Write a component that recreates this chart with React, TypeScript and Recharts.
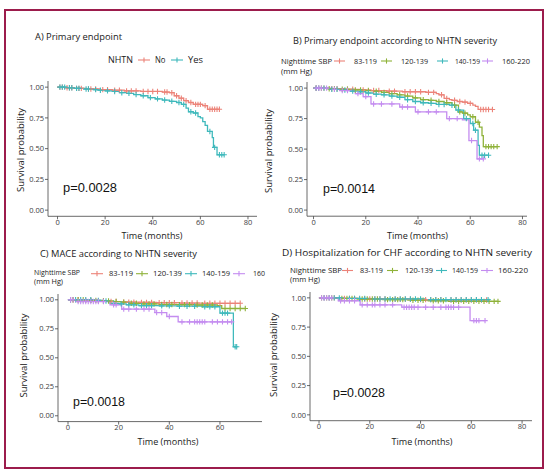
import React from 'react';
import { LineChart, Line, XAxis, YAxis } from 'recharts';

type Pt = [number, number, number];

const TIME_TICKS = [0, 20, 40, 60, 80];
const TIME_TICKS_C = [0, 20, 40, 60];
const SURV_TICKS = [0, 0.25, 0.5, 0.75, 1];

const NHTN_GROUPS = ['No', 'Yes'];
const SBP_GROUPS = ['83-119', '120-139', '140-159', '160-220'];
const SBP_GROUPS_C = ['83-119', '120-139', '140-159', '160'];

const P_VALUES = ['p=0.0028', 'p=0.0014', 'p=0.0018', 'p=0.0028'];

// [time, survival, censored]
const A_NO: Pt[] = [[0,1,0],[1,1,1],[2,1,1],[3,0.995,0],[4,0.995,1],[5,0.995,1],[6,0.995,1],[7,0.99,0],[8,0.99,1],[9,0.99,1],[10,0.99,1],[12,0.985,0],[13,0.985,1],[14,0.985,1],[16,0.985,1],[18,0.98,0],[19,0.98,1],[21,0.98,1],[23,0.975,0],[24,0.975,1],[26,0.975,1],[28,0.97,0],[29,0.97,1],[31,0.97,1],[33,0.97,1],[35,0.965,0],[36,0.965,1],[38,0.965,1],[40,0.965,1],[42,0.965,1],[44,0.96,0],[45,0.96,1],[46,0.96,1],[47,0.955,0],[48,0.955,1],[49,0.93,0],[50,0.93,1],[51,0.91,0],[52,0.91,1],[53,0.89,0],[54,0.89,1],[55,0.875,0],[56,0.875,1],[57,0.86,0],[58,0.86,1],[59,0.86,1],[60,0.86,1],[61,0.85,0],[62,0.85,1],[63,0.82,0],[64,0.82,1],[65,0.82,1],[66,0.82,1],[67,0.82,1],[68,0.82,1]];
const A_YES: Pt[] = [[0,1,0],[1,1,1],[2,1,1],[3,1,1],[4,0.995,0],[5,0.995,1],[6,0.995,1],[7,0.99,0],[8,0.99,1],[9,0.99,1],[11,0.985,0],[12,0.985,1],[13,0.985,1],[15,0.98,0],[16,0.98,1],[17,0.975,0],[18,0.975,1],[20,0.97,0],[21,0.97,1],[23,0.965,0],[24,0.965,1],[26,0.955,0],[27,0.955,1],[29,0.95,0],[30,0.95,1],[32,0.94,0],[33,0.94,1],[35,0.93,0],[36,0.93,1],[38,0.915,0],[39,0.915,1],[41,0.905,0],[42,0.905,1],[44,0.895,0],[45,0.895,1],[47,0.885,0],[48,0.885,1],[50,0.875,0],[51,0.875,1],[52,0.86,0],[53,0.86,1],[54,0.83,0],[55,0.8,0],[56,0.8,1],[57,0.79,0],[58,0.79,1],[59,0.76,0],[60,0.75,0],[61,0.72,0],[62,0.69,0],[63,0.64,0],[64,0.64,1],[65,0.59,0],[65.5,0.51,0],[66,0.51,1],[67,0.45,0],[68,0.45,1],[69,0.45,1],[70,0.45,1]];

const B_83: Pt[] = [[0,1,0],[1,1,1],[2,1,1],[4,1,1],[6,0.995,0],[7,0.995,1],[9,0.995,1],[12,0.99,0],[13,0.99,1],[15,0.99,1],[18,0.985,0],[19,0.985,1],[22,0.98,0],[23,0.98,1],[25,0.98,1],[28,0.975,0],[29,0.975,1],[31,0.975,1],[34,0.97,0],[35,0.97,1],[37,0.97,1],[39,0.97,1],[41,0.97,1],[43,0.965,0],[44,0.965,1],[46,0.965,1],[47,0.955,0],[48,0.945,0],[49,0.945,1],[50,0.915,0],[51,0.915,1],[52,0.905,0],[53,0.9,0],[54,0.9,1],[55,0.89,0],[56,0.89,1],[57,0.885,0],[58,0.885,1],[59,0.875,0],[60,0.875,1],[61,0.86,0],[62,0.85,0],[63,0.825,0],[64,0.825,1],[65,0.825,1],[66,0.825,1],[67,0.825,1],[68.5,0.825,1]];
const B_120: Pt[] = [[0,1,0],[1,1,1],[3,1,1],[5,0.995,0],[6,0.995,1],[8,0.995,1],[10,0.99,0],[11,0.99,1],[13,0.99,1],[15,0.985,0],[16,0.985,1],[18,0.985,1],[20,0.98,0],[21,0.98,1],[23,0.975,0],[24,0.975,1],[26,0.965,0],[27,0.965,1],[29,0.955,0],[30,0.955,1],[32,0.945,0],[33,0.945,1],[35,0.935,0],[36,0.935,1],[38,0.92,0],[39,0.92,1],[41,0.905,0],[42,0.905,1],[44,0.9,0],[45,0.9,1],[47,0.89,0],[48,0.89,1],[50,0.88,0],[51,0.88,1],[53,0.86,0],[54,0.86,1],[55.5,0.805,0],[56,0.805,1],[57,0.795,0],[58,0.795,1],[59,0.78,0],[60,0.765,0],[61,0.765,1],[62,0.72,0],[63,0.72,1],[63.5,0.68,0],[64.5,0.61,0],[65,0.52,0],[66,0.52,1],[67,0.52,1],[68,0.52,1],[69,0.52,1],[70.3,0.52,1]];
const B_140: Pt[] = [[0,1,0],[1,1,1],[2,1,1],[4,1,1],[6,0.99,0],[7,0.99,1],[9,0.99,1],[11,0.985,0],[12,0.985,1],[14,0.975,0],[15,0.975,1],[17,0.97,0],[18,0.97,1],[20,0.96,0],[21,0.96,1],[23,0.95,0],[24,0.95,1],[26,0.945,0],[27,0.945,1],[29,0.935,0],[30,0.935,1],[32,0.925,0],[33,0.925,1],[35,0.905,0],[36,0.905,1],[38,0.89,0],[39,0.89,1],[41,0.88,0],[42,0.88,1],[44,0.875,0],[45,0.875,1],[47,0.866,0],[48,0.866,1],[50,0.866,1],[52,0.86,0],[53,0.86,1],[54.5,0.82,0],[55.5,0.82,1],[57.5,0.75,0],[58.5,0.75,1],[60,0.71,0],[61,0.71,1],[61.3,0.655,0],[62,0.655,1],[63,0.53,0],[63.5,0.45,0],[64.5,0.45,1],[65.5,0.45,1],[67,0.45,1]];
const B_160: Pt[] = [[0,1,0],[1,1,1],[2,1,1],[3,1,1],[5,1,1],[7,0.99,0],[8,0.99,1],[10,0.98,0],[11,0.98,1],[13,0.98,1],[16,0.955,0],[17,0.955,1],[19,0.93,0],[20,0.93,1],[22,0.87,0],[23,0.87,1],[26,0.87,1],[30,0.87,1],[33,0.845,0],[34,0.845,1],[36,0.845,1],[39,0.805,0],[40,0.805,1],[44,0.805,1],[47,0.805,1],[51,0.75,0],[52,0.75,1],[55,0.75,1],[57,0.74,0],[59.5,0.57,0],[60.5,0.57,1],[62.6,0.42,0],[63.5,0.42,1],[65,0.42,1]];

const C_83: Pt[] = [[0,1,0],[1,1,1],[2,1,1],[4,1,1],[6,0.995,0],[7,0.995,1],[9,0.995,1],[11,0.99,0],[12,0.99,1],[14,0.99,1],[16,0.985,0],[17,0.985,1],[19,0.985,1],[21,0.98,0],[22,0.98,1],[24,0.98,1],[26,0.98,1],[28,0.978,0],[29,0.978,1],[31,0.978,1],[33,0.978,1],[35,0.975,0],[36,0.975,1],[38,0.975,1],[40,0.975,1],[42,0.975,1],[44,0.972,0],[45,0.972,1],[47,0.972,1],[49,0.972,1],[51,0.972,1],[53,0.97,0],[54,0.97,1],[56,0.97,1],[58,0.97,1],[60,0.97,1],[62,0.97,1],[64,0.97,1],[66,0.97,1],[68,0.97,1]];
const C_120: Pt[] = [[0,1,0],[2,1,1],[4,1,1],[6,1,1],[8,0.995,0],[9,0.995,1],[11,0.995,1],[13,0.99,0],[14,0.99,1],[16,0.99,1],[18,0.985,0],[19,0.985,1],[21,0.98,0],[22,0.98,1],[24,0.97,0],[25,0.97,1],[27,0.97,1],[29,0.965,0],[30,0.965,1],[32,0.965,1],[34,0.965,1],[36,0.96,0],[37,0.96,1],[39,0.96,1],[41,0.96,1],[43,0.958,0],[44,0.958,1],[46,0.958,1],[48,0.958,1],[50,0.955,0],[51,0.955,1],[53,0.955,1],[55,0.955,1],[57,0.955,1],[59,0.95,0],[60.7,0.925,0],[62,0.925,1],[64,0.925,1],[66,0.925,1],[68,0.925,1],[70,0.925,1]];
const C_140: Pt[] = [[0,1,0],[1,1,1],[3,1,1],[5,1,1],[7,1,1],[9,1,1],[11,0.995,0],[12,0.995,1],[14,0.99,0],[15,0.99,1],[16.6,0.97,0],[18,0.97,1],[20,0.965,0],[21,0.965,1],[23,0.957,0],[24,0.957,1],[26,0.957,1],[28,0.95,0],[29,0.95,1],[31,0.95,1],[33,0.95,1],[36,0.948,0],[37,0.948,1],[40,0.948,1],[43,0.945,0],[44,0.945,1],[47,0.945,1],[50,0.945,1],[53,0.94,0],[54,0.94,1],[56,0.94,1],[58,0.94,1],[60,0.885,0],[61,0.885,1],[62,0.885,1],[63,0.885,1],[65.3,0.595,0],[66,0.595,1],[66.6,0.595,1]];
const C_160: Pt[] = [[0,1,0],[1,1,1],[2,1,1],[3,0.985,0],[4,0.985,1],[5,0.985,1],[6,0.985,1],[7,0.985,1],[8,0.985,1],[9,0.985,1],[10,0.985,1],[11,0.985,1],[12,0.985,1],[14,0.985,1],[16.6,0.957,0],[18,0.957,1],[19,0.957,1],[21.2,0.92,0],[22,0.92,1],[24,0.92,1],[27,0.92,1],[30,0.92,1],[32,0.92,1],[34.3,0.89,0],[35,0.89,1],[37,0.89,1],[39,0.856,0],[40,0.856,1],[43.5,0.81,0],[45,0.81,1],[48,0.81,1],[50,0.81,1],[51,0.81,1],[52,0.81,1],[53,0.81,1],[54,0.81,1],[57,0.81,1],[59,0.81,1],[61,0.81,1],[63,0.81,1],[64.6,0.81,1]];

const D_83: Pt[] = [[0,1,0],[2,1,1],[4,1,1],[6,1,1],[8,0.995,0],[10,0.995,1],[12,0.995,1],[14,0.995,1],[16,0.99,0],[18,0.99,1],[20,0.99,1],[22,0.99,1],[24,0.99,1],[26,0.99,1],[28,0.988,0],[30,0.988,1],[32,0.988,1],[34,0.988,1],[36,0.988,1],[38,0.985,0],[40,0.985,1],[42,0.985,1],[44,0.985,1],[46,0.985,1],[48,0.985,1],[50,0.982,0],[52,0.982,1],[54,0.982,1],[56,0.982,1],[58,0.982,1],[60,0.982,1],[62,0.982,1],[64,0.982,1],[66,0.982,1]];
const D_120: Pt[] = [[0,1,0],[1,1,1],[3,1,1],[5,1,1],[7,0.995,0],[9,0.995,1],[11,0.995,1],[13,0.995,1],[15,0.99,0],[17,0.99,1],[19,0.99,1],[21,0.99,1],[23,0.99,1],[25,0.985,0],[27,0.985,1],[29,0.985,1],[31,0.985,1],[33,0.985,1],[35,0.98,0],[37,0.98,1],[39,0.98,1],[41,0.98,1],[43,0.975,0],[45,0.975,1],[47,0.975,1],[49,0.975,1],[51,0.97,0],[53,0.97,1],[55,0.97,1],[57,0.97,1],[59,0.97,1],[61,0.97,1],[63,0.97,1],[65,0.97,1],[67,0.97,1],[69,0.97,1],[70.5,0.97,1]];
const D_140: Pt[] = [[0,1,0],[2,1,1],[4,1,1],[6,1,1],[8,1,1],[10,0.995,0],[12,0.995,1],[14,0.995,1],[16,0.995,1],[18,0.995,1],[20,0.99,0],[22,0.99,1],[24,0.99,1],[26,0.99,1],[28,0.99,1],[30,0.99,1],[32,0.99,1],[34,0.99,1],[36,0.99,1],[38,0.99,1],[40,0.99,1],[42,0.985,0],[44,0.985,1],[46,0.985,1],[48,0.985,1],[50,0.985,1],[52,0.985,1],[54,0.985,1],[56,0.985,1],[58,0.985,1],[60,0.985,1],[62,0.985,1],[64,0.985,1],[66.6,0.985,1]];
const D_160: Pt[] = [[0,1,0],[1,1,1],[2,1,1],[3,1,1],[4,1,1],[5,1,1],[7.6,0.975,0],[8.5,0.975,1],[10,0.975,1],[12,0.975,1],[14,0.975,1],[16.2,0.94,0],[17,0.94,1],[19,0.94,1],[21,0.94,1],[22,0.94,1],[24,0.94,1],[26,0.94,1],[29,0.94,1],[32.6,0.92,0],[33.5,0.92,1],[34.5,0.92,1],[35.5,0.92,1],[36.5,0.92,1],[37.5,0.92,1],[39,0.92,1],[42,0.92,1],[45,0.92,1],[48,0.92,1],[50,0.92,1],[51,0.92,1],[52,0.92,1],[53,0.92,1],[55,0.92,1],[59.5,0.805,0],[61,0.805,1],[62,0.805,1],[63,0.805,1],[65.4,0.805,1]];

const COLORS2 = ['#EC8379', '#3FB9BC'];
const COLORS4 = ['#EC8379', '#8FB23A', '#3FB9BC', '#C48CF0'];

const toRows = (d: Pt[]) => d.map(([t, s, c]) => ({ t, s, c }));

const censorDot = (color: string) => (props: any) => {
  const { cx, cy, payload, index } = props;
  if (!payload || !payload.c || cx == null || cy == null) return <g key={`n${index}`} />;
  return (
    <path
      key={`c${index}`}
      d={`M${cx - 2.7},${cy}h5.4M${cx},${cy - 2.7}v5.4`}
      stroke={color}
      strokeWidth={1.1}
      fill="none"
    />
  );
};

const tickStyle = { fontSize: 7.5, fill: '#3d3d3d', fontFamily: 'Open Sans' };

function KM(props: {
  left: number; top: number; width: number; height: number;
  xDomain: [number, number]; xTicks: number[]; series: Pt[][]; colors: string[];
}) {
  const { left, top, width, height, xDomain, xTicks, series, colors } = props;
  return (
    <div style={{ position: 'absolute', left, top, width, height }}>
      <LineChart width={width} height={height} margin={{ top: 0, right: 0, bottom: 0, left: 0 }}>
        <XAxis
          type="number"
          dataKey="t"
          domain={xDomain}
          ticks={xTicks}
          allowDataOverflow
          interval={0}
          height={20}
          tickSize={3}
          tickMargin={0}
          stroke="#444"
          strokeWidth={0.8}
          tick={tickStyle}
        />
        <YAxis
          type="number"
          domain={[-0.05, 1.05]}
          ticks={SURV_TICKS}
          allowDataOverflow
          interval={0}
          width={40}
          tickSize={3}
          tickMargin={1}
          stroke="#444"
          strokeWidth={0.8}
          tick={tickStyle}
          tickFormatter={(v: number) => v.toFixed(2)}
        />
        {series.map((d, i) => (
          <Line
            key={i}
            data={toRows(d)}
            dataKey="s"
            type="stepAfter"
            stroke={colors[i]}
            strokeWidth={1.3}
            dot={censorDot(colors[i])}
            activeDot={false}
            isAnimationActive={false}
          />
        ))}
      </LineChart>
    </div>
  );
}

const T = (p: { x: number; y: number; w?: number; size: number; children: React.ReactNode; anchor?: string; family?: string; fill?: string }) => (
  <text
    x={p.x}
    y={p.y}
    fontSize={p.size}
    fontFamily={p.family || 'Open Sans'}
    fill={p.fill || '#1a1a1a'}
    textAnchor={(p.anchor as any) || 'start'}
    textLength={p.w}
    lengthAdjust={p.w ? 'spacingAndGlyphs' : undefined}
  >
    {p.children}
  </text>
);

const Key = ({ x1, x2, y, color }: { x1: number; x2: number; y: number; color: string }) => (
  <g stroke={color} strokeWidth={1.1}>
    <line x1={x1} x2={x2} y1={y} y2={y} />
    <line x1={(x1 + x2) / 2} x2={(x1 + x2) / 2} y1={y - 2.6} y2={y + 2.6} />
  </g>
);

const YTitle = ({ x, y }: { x: number; y: number }) => (
  <text
    transform={`translate(${x},${y}) rotate(-90)`}
    textAnchor="middle"
    dominantBaseline="central"
    fontSize={9.5}
    fontFamily="Open Sans"
    fill="#1a1a1a"
    textLength={84}
    lengthAdjust="spacingAndGlyphs"
  >
    Survival probability
  </text>
);

const XTitle = ({ x, y }: { x: number; y: number }) => (
  <text x={x} y={y} textAnchor="middle" dominantBaseline="central" fontSize={9.5} fontFamily="Open Sans" fill="#1a1a1a" textLength={61} lengthAdjust="spacingAndGlyphs">
    Time (months)
  </text>
);

export default function App() {
  return (
    <div style={{ position: 'absolute', left: 0, top: 0, width: 550, height: 474, background: '#fff', overflow: 'hidden' }}>
      <KM left={7.5} top={80.9} width={249.5} height={155.3} xDomain={[-4, 84]} xTicks={TIME_TICKS} series={[A_NO, A_YES]} colors={COLORS2} />
      <KM left={266.5} top={81.9} width={260.2} height={154.2} xDomain={[-2.5, 81.8]} xTicks={TIME_TICKS} series={[B_83, B_120, B_140, B_160]} colors={COLORS4} />
      <KM left={18} top={294.2} width={244} height={147.6} xDomain={[-3.95, 76.6]} xTicks={TIME_TICKS_C} series={[C_83, C_120, C_140, C_160]} colors={COLORS4} />
      <KM left={270} top={292.15} width={262} height={148.7} xDomain={[-3.55, 83.9]} xTicks={TIME_TICKS} series={[D_83, D_120, D_140, D_160]} colors={COLORS4} />

      <svg width={550} height={474} style={{ position: 'absolute', left: 0, top: 0, pointerEvents: 'none' }}>
        <rect x={5} y={10} width={538} height={458} fill="none" stroke="#9C1C4C" strokeWidth={2} />

        {/* Titles */}
        <T x={35} y={40.4} w={87} size={9.5}>A) Primary endpoint</T>
        <T x={293} y={44.4} w={204} size={9.5}>B) Primary endpoint according to NHTN severity</T>
        <T x={40} y={257.4} w={157} size={9.5}>C) MACE according to NHTN severity</T>
        <T x={282} y={256.4} w={250} size={9.5}>D) Hospitalization for CHF according to NHTN severity</T>

        {/* Legend A */}
        <T x={108} y={63.2} w={25} size={9}>NHTN</T>
        <Key x1={138} x2={150} y={60} color={COLORS2[0]} />
        <T x={155} y={63.2} w={10.5} size={9}>{NHTN_GROUPS[0]}</T>
        <Key x1={171} x2={183} y={60} color={COLORS2[1]} />
        <T x={188} y={63.2} w={15} size={9}>{NHTN_GROUPS[1]}</T>

        {/* Legend B */}
        <T x={281} y={63.7} w={51} size={7.5}>Nighttime SBP</T>
        <T x={281} y={73.7} w={31} size={7.5}>(mm Hg)</T>
        <Key x1={334} x2={345} y={61} color={COLORS4[0]} />
        <T x={354} y={63.7} w={23} size={7.5}>{SBP_GROUPS[0]}</T>
        <Key x1={381} x2={392} y={61} color={COLORS4[1]} />
        <T x={401} y={63.7} w={27} size={7.5}>{SBP_GROUPS[1]}</T>
        <Key x1={437} x2={448} y={61} color={COLORS4[2]} />
        <T x={455} y={63.7} w={25} size={7.5}>{SBP_GROUPS[2]}</T>
        <Key x1={482} x2={493} y={61} color={COLORS4[3]} />
        <T x={502} y={63.7} w={28} size={7.5}>{SBP_GROUPS[3]}</T>

        {/* Legend C */}
        <T x={34} y={274.8} w={46} size={6.6}>Nighttime SBP</T>
        <T x={34} y={283.8} w={29} size={6.6}>(mm Hg)</T>
        <Key x1={91} x2={103} y={273.7} color={COLORS4[0]} />
        <T x={109} y={276.3} w={24} size={7.5}>{SBP_GROUPS_C[0]}</T>
        <Key x1={136} x2={148} y={273.7} color={COLORS4[1]} />
        <T x={153} y={276.3} w={29} size={7.5}>{SBP_GROUPS_C[1]}</T>
        <Key x1={185} x2={197} y={273.7} color={COLORS4[2]} />
        <T x={202} y={276.3} w={28} size={7.5}>{SBP_GROUPS_C[2]}</T>
        <Key x1={233} x2={245} y={273.7} color={COLORS4[3]} />
        <T x={253} y={276.3} w={12} size={7.5}>{SBP_GROUPS_C[3]}</T>

        {/* Legend D */}
        <T x={290} y={273} w={52} size={7.5}>Nighttime SBP</T>
        <T x={290} y={282} w={30} size={7.5}>(mm Hg)</T>
        <Key x1={342} x2={353} y={270.5} color={COLORS4[0]} />
        <T x={360} y={273.2} w={23} size={7.5}>{SBP_GROUPS[0]}</T>
        <Key x1={387} x2={398} y={270.5} color={COLORS4[1]} />
        <T x={405} y={273.2} w={28} size={7.5}>{SBP_GROUPS[1]}</T>
        <Key x1={436} x2={447} y={270.5} color={COLORS4[2]} />
        <T x={452} y={273.2} w={26} size={7.5}>{SBP_GROUPS[2]}</T>
        <Key x1={481} x2={493} y={270.5} color={COLORS4[3]} />
        <T x={498} y={273.2} w={30} size={7.5}>{SBP_GROUPS[3]}</T>

        {/* Axis titles */}
        <YTitle x={20} y={150} />
        <YTitle x={268} y={151} />
        <YTitle x={23} y={355.5} />
        <YTitle x={273} y={355} />
        <XTitle x={152} y={235} />
        <XTitle x={417.5} y={235} />
        <XTitle x={168} y={441} />
        <XTitle x={422} y={441} />

        {/* p-values */}
        <T x={63} y={192.3} w={54} size={12.5} family="Liberation Sans" fill="#111">{P_VALUES[0]}</T>
        <T x={323} y={193.3} w={52} size={12.5} family="Liberation Sans" fill="#111">{P_VALUES[1]}</T>
        <T x={73} y={406.3} w={52} size={12.5} family="Liberation Sans" fill="#111">{P_VALUES[2]}</T>
        <T x={333} y={397} w={52} size={12.5} family="Liberation Sans" fill="#111">{P_VALUES[3]}</T>
      </svg>
    </div>
  );
}
